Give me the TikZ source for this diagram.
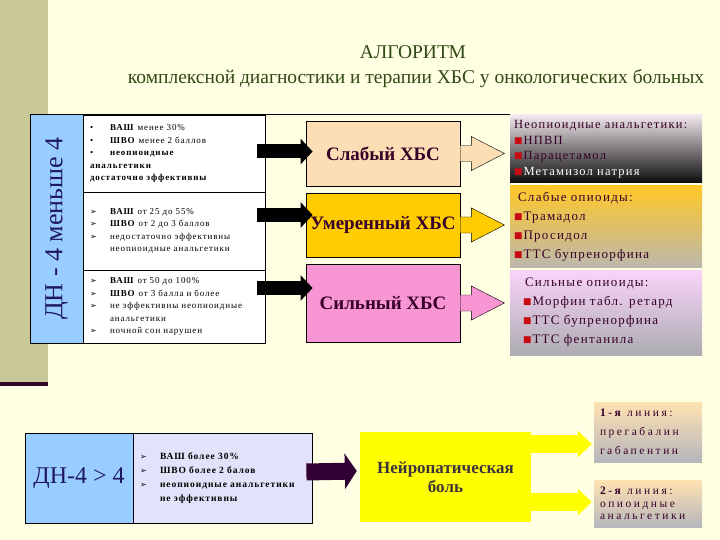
\documentclass[tikz,border=0pt]{standalone}
\usepackage{fontspec}
\setmainfont{Liberation Serif}
\newfontfamily\widefont[LetterSpace=10]{Liberation Serif}
\newfontfamily\widerfont[LetterSpace=22]{Liberation Serif}
\newfontfamily\symfont{DejaVu Sans}
\usetikzlibrary{arrows.meta,calc}

\definecolor{paper}{RGB}{255,255,227}
\definecolor{olivebar}{RGB}{200,200,152}
\definecolor{barline}{RGB}{50,10,40}
\definecolor{skyblue}{RGB}{153,204,255}
\definecolor{navytext}{RGB}{30,25,95}
\definecolor{titlegreen}{RGB}{50,72,20}
\definecolor{peach}{RGB}{252,222,180}
\definecolor{gold}{RGB}{255,204,0}
\definecolor{pinkbox}{RGB}{248,150,212}
\definecolor{plum}{RGB}{55,0,40}
\definecolor{sqred}{RGB}{200,10,20}
\definecolor{critblue}{RGB}{226,226,250}
\definecolor{arrowplum}{RGB}{50,0,50}
\definecolor{neuroyellow}{RGB}{255,255,0}
\definecolor{neurotext}{RGB}{60,50,60}

\newcommand\rowitem[2]{\makebox[20pt][l]{#1}#2}
\newcommand\redsq{\raisebox{1pt}{\color{sqred}\symfont\fontsize{9}{9}\selectfont■}\hspace{1pt}}
\newcommand\tri{{\symfont\fontsize{8}{8}\selectfont ➢}}
\newcommand\blockarrow[2]{\draw[fill=#1] ($(#2.east)+(0,-8)$) -- ++(11,0) -- ++(0,-9)
  -- ++(33,17) -- ++(-33,17) -- ++(0,-9) -- ++(-11,0);}

\begin{document}
\begin{tikzpicture}
  [x=1pt, y=-1pt,
  block/.style={rectangle, draw=black, line width=0.8pt, inner sep=0pt},
  critrow/.style={block, fill=white, minimum width=182pt, text width=168pt, align=left,
    font=\widefont\fontsize{9}{12.5}\selectfont},
  hbs/.style={block, minimum width=154pt, text=plum, font=\bfseries\fontsize{19}{22}\selectfont},
  drug/.style={rectangle, inner sep=0pt, minimum width=192pt, text width=184pt, align=left,
    text=plum, font=\widefont\fontsize{13}{19}\selectfont},
  linebox/.style={rectangle, inner sep=0pt, minimum width=108pt, text width=96pt, align=left,
    text=plum, top color={rgb,255:red,255;green,226;blue,178}, bottom color={rgb,255:red,182;green,182;blue,188},
    font=\widerfont\fontsize{11.5}{19}\selectfont},
  bigarrow/.style={draw=black, line width=14pt, -{Triangle[length=12pt,width=25pt]}},
  darkarrow/.style={draw=arrowplum, line width=17pt, -{Triangle[length=12pt,width=35pt]}},
  yarrow/.style={draw=neuroyellow, line width=18pt, -{Triangle[length=14pt,width=26pt]}}]
  \useasboundingbox (0,0) rectangle (720,540);
  % background
  \fill[paper] (0,0) rectangle (720,540);
  \fill[olivebar] (0,0) rectangle (48,382);
  \fill[barline] (0,382) rectangle (48,386);
  % title
  \node [text=titlegreen, font=\fontsize{19.5}{22}\selectfont] (title) at (413,52) {АЛГОРИТМ};
  \node [text=titlegreen, font=\fontsize{19.5}{22}\selectfont] (subtitle) at (416,79)
    {комплексной диагностики и терапии ХБС у онкологических больных};
  % nodes
  \node [block, fill=skyblue, rotate=90, minimum width=229pt, minimum height=53pt, text=navytext,
    font=\fontsize{26}{30}\selectfont] (dnless) at (56.5,228.5) {ДН - 4 меньше 4};
  \node [critrow, minimum height=77pt] (row1) at (174,153.5) {%
    \rowitem{•}{\textbf{ВАШ} менее 30\%}\\
    \rowitem{•}{\textbf{ШВО} менее 2 баллов}\\
    \rowitem{•}{\textbf{неопиоидные}}\\
    \textbf{анальгетики}\\
    \textbf{достаточно эффективны}};
  \node [critrow, minimum height=78pt] (row2) at (174,231) {%
    \rowitem{\tri}{\textbf{ВАШ} от 25 до 55\%}\\
    \rowitem{\tri}{\textbf{ШВО} от 2 до 3 баллов}\\
    \rowitem{\tri}{недостаточно эффективны}\\
    \hspace*{20pt}неопиоидные анальгетики};
  \node [critrow, minimum height=73pt] (row3) at (174,306.5) {%
    \rowitem{\tri}{\textbf{ВАШ} от 50 до 100\%}\\
    \rowitem{\tri}{\textbf{ШВО} от 3 балла и более}\\
    \rowitem{\tri}{не эффективны неопиоидные}\\
    \hspace*{20pt}анальгетики\\
    \rowitem{\tri}{ночной сон нарушен}};
  \node [hbs, fill=peach, minimum height=65pt] (weak) at (383,153.5) {Слабый ХБС};
  \node [hbs, fill=gold, minimum height=64pt] (mod) at (383,225) {Умеренный ХБС};
  \node [hbs, fill=pinkbox, minimum height=78pt] (strong) at (383,303) {Сильный ХБС};
  \node [drug, minimum height=68pt, inner xsep=3pt, font=\widefont\fontsize{12.5}{15.5}\selectfont,
    top color={rgb,255:red,242;green,232;blue,238}, middle color={rgb,255:red,150;green,145;blue,145},
    bottom color={rgb,255:red,12;green,12;blue,12}] (nonop) at (606,149) {%
    Неопиоидные анальгетики:\\
    \redsq НПВП\\
    \redsq Парацетамол\\
    \redsq{\color{white}Метамизол натрия}};
  \node [drug, minimum height=81pt, inner xsep=2pt, top color={rgb,255:red,255;green,200;blue,40},
    bottom color={rgb,255:red,188;green,184;blue,172}] (weakop) at (606,226.5) {%
    \hspace*{4pt}Слабые опиоиды:\\
    \redsq Трамадол\\
    \redsq Просидол\\
    \redsq ТТС бупренорфина};
  \node [drug, minimum height=85pt, inner xsep=13pt, text width=166pt,
    top color={rgb,255:red,250;green,212;blue,250}, bottom color={rgb,255:red,172;green,172;blue,178}]
    (strongop) at (606,312.5) {%
    \hspace*{2pt}Сильные опиоиды:\\
    \redsq Морфин табл. ретард\\
    \redsq ТТС бупренорфина\\
    \redsq ТТС фентанила};
  \node [block, fill=skyblue, minimum width=108pt, minimum height=90pt, text=navytext,
    font=\fontsize{24}{28}\selectfont] (dnmore) at (79,478) {ДН-4 > 4};
  \node [block, fill=critblue, minimum width=179pt, minimum height=90pt, text width=165pt, align=left,
    font=\widefont\bfseries\fontsize{9.5}{14}\selectfont] (critmore) at (222.5,478) {%
    \rowitem{\tri}{ВАШ более 30\%}\\
    \rowitem{\tri}{ШВО более 2 балов}\\
    \rowitem{\tri}{неопиоидные анальгетики}\\
    \hspace*{20pt}не эффективны};
  \node [rectangle, fill=neuroyellow, minimum width=171pt, minimum height=90pt, align=center,
    text=neurotext, font=\bfseries\fontsize{17}{19}\selectfont] (neuro) at (445.5,477)
    {Нейропатическая\\боль};
  \node [linebox, minimum height=60pt] (line1) at (648,432) {%
    \textbf{1-я} линия:\\прегабалин\\габапентин};
  \node [linebox, minimum height=47pt, font=\widerfont\fontsize{11.5}{12.5}\selectfont] (line2) at (648,503.5) {%
    \textbf{2-я} линия:\\опиоидные\\анальгетики};
  % edges
  \draw [line width=1.2pt] (row1.north west) -- (row1.north west -| nonop.west);
  \draw [bigarrow] ($(row1.east)+(-8,-2)$) -- ($(weak.west)+(7,-2)$);
  \draw [bigarrow] ($(row2.east |- mod.west)+(-8,-10)$) -- ($(mod.west)+(7,-10)$);
  \draw [bigarrow] ($(row3.east |- strong.west)+(-8,-15)$) -- ($(strong.west)+(7,-15)$);
  \blockarrow{peach}{weak}
  \blockarrow{gold}{mod}
  \blockarrow{pinkbox}{strong}
  \draw [darkarrow] ($(critmore.east)+(-6,-6)$) -- ($(neuro.west)+(-3,-6)$);
  \draw [yarrow] ($(neuro.east)+(0,-33)$) -- ($(neuro.east -| line1.west)+(-2,-33)$);
  \draw [yarrow] ($(neuro.east)+(0,25)$) -- ($(neuro.east -| line2.west)+(-2,25)$);
\end{tikzpicture}
\end{document}
